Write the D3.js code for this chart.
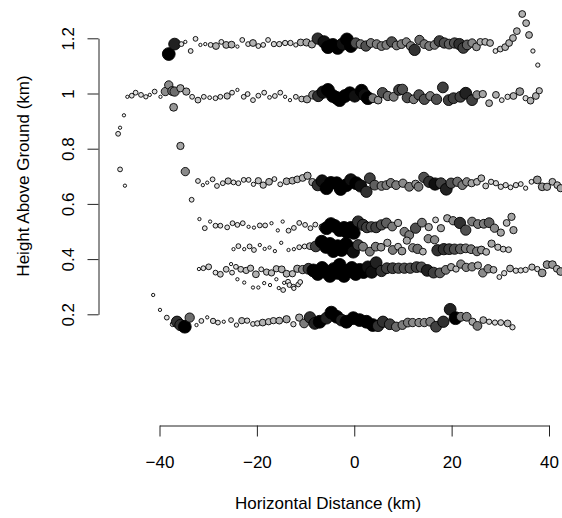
<!DOCTYPE html>
<html>
<head>
<meta charset="utf-8">
<script src="https://cdn.jsdelivr.net/npm/d3@7"></script>
<style>
  body { margin: 0; background: #fff; }
  svg { display: block; font-family: "Liberation Sans", Arial, Helvetica, sans-serif; }
</style>
</head>
<body>
<div id="chart"></div>
<script>
// Axis ticks
const xTicks = [-40, -20, 0, 20, 40];
const yTicks = [0.2, 0.4, 0.6, 0.8, 1, 1.2];

// Each point: [horizontal distance km, height km, strength 0..1]
const leftArc = [[-47.3,0.921,0.05],[-48.1,0.876,0.05],[-48.5,0.854,0.2],[-48.1,0.725,0.2],[-47.1,0.666,0.05]];

const layer120 = [[-38.1,1.143,1.0],[-36.9,1.179,0.9],[-35.5,1.179,0.2],[-34.7,1.187,0.05],[-33.6,1.154,0.2],[-32.6,1.198,0.2],[-31.6,1.176,0.05],[-30.6,1.179,0.05],[-29.5,1.176,0.2],[-28.4,1.172,0.4],[-27.3,1.187,0.2],[-26.3,1.176,0.4],[-25.2,1.177,0.4],[-24.0,1.170,0.05],[-23.0,1.194,0.2],[-21.8,1.179,0.2],[-20.8,1.183,0.4],[-19.7,1.172,0.2],[-18.7,1.176,0.2],[-17.7,1.194,0.2],[-16.5,1.179,0.25],[-15.4,1.179,0.25],[-14.2,1.183,0.25],[-13.1,1.183,0.25],[-12.0,1.176,0.15],[-11.0,1.185,0.4],[-9.8,1.185,0.45],[-8.7,1.178,0.45],[-7.5,1.199,0.85],[-6.2,1.187,0.95],[-5.4,1.168,1.0],[-4.4,1.176,1.0],[-3.4,1.165,1.0],[-2.4,1.179,0.95],[-1.5,1.196,1.0],[-0.7,1.172,1.0],[0.3,1.183,0.75],[1.3,1.179,0.6],[2.4,1.172,0.75],[3.4,1.183,0.6],[4.6,1.179,0.6],[5.6,1.172,0.6],[6.6,1.176,0.6],[7.7,1.187,0.75],[8.7,1.174,0.6],[9.7,1.179,0.6],[10.7,1.187,0.55],[11.6,1.172,0.6],[12.4,1.158,0.85],[13.4,1.194,0.65],[14.4,1.179,0.6],[15.4,1.172,0.6],[16.5,1.176,0.6],[17.5,1.190,0.8],[18.5,1.183,0.75],[19.5,1.179,0.7],[20.6,1.183,0.75],[21.6,1.179,0.85],[22.4,1.165,0.8],[23.2,1.176,0.7],[24.2,1.183,0.55],[25.1,1.169,0.5],[25.9,1.187,0.4],[26.9,1.187,0.4],[27.9,1.183,0.4],[29.0,1.154,0.2],[30.0,1.161,0.3],[31.0,1.168,0.4],[31.8,1.183,0.4],[32.6,1.201,0.4],[33.4,1.226,0.4],[34.5,1.288,0.4],[35.3,1.255,0.4],[35.9,1.212,0.4],[36.7,1.154,0.15],[37.7,1.103,0.15]];

const layer100 = [[-46.6,0.988,0.05],[-45.7,0.992,0.2],[-44.9,1.003,0.2],[-43.8,0.995,0.2],[-42.8,0.988,0.15],[-42.0,0.995,0.05],[-41.0,1.007,0.2],[-39.8,0.988,0.05],[-38.8,1.007,0.55],[-38.1,1.031,0.55],[-37.4,1.009,0.6],[-37.1,0.950,0.5],[-36.9,1.007,0.65],[-35.7,1.019,0.45],[-34.5,1.007,0.45],[-33.3,0.988,0.2],[-32.1,0.976,0.3],[-30.9,0.988,0.2],[-29.7,0.985,0.1],[-28.5,0.983,0.2],[-27.5,0.988,0.2],[-26.1,0.991,0.35],[-25.1,1.003,0.2],[-24.0,1.013,0.05],[-22.7,0.988,0.2],[-21.9,0.998,0.2],[-20.8,0.976,0.2],[-19.7,0.992,0.2],[-18.5,1.003,0.2],[-17.4,0.986,0.1],[-16.3,0.991,0.2],[-15.2,1.003,0.2],[-14.2,0.988,0.05],[-13.2,0.976,0.05],[-12.0,0.988,0.2],[-10.8,0.980,0.3],[-9.7,0.979,0.45],[-8.5,0.995,0.55],[-7.4,0.991,0.85],[-6.4,1.005,0.95],[-5.4,1.013,1.0],[-4.4,0.991,1.0],[-3.6,0.984,1.0],[-3.0,0.976,1.0],[-1.9,0.991,1.0],[-0.9,1.001,1.0],[0.1,0.991,0.95],[1.5,1.010,1.0],[2.1,0.995,0.95],[2.8,0.983,1.0],[3.8,0.983,0.6],[4.9,0.976,0.5],[5.8,1.003,0.75],[6.9,0.991,0.65],[8.1,0.988,0.6],[9.2,1.013,0.8],[9.9,1.015,0.75],[10.9,0.985,0.75],[12.2,0.979,0.6],[13.3,0.995,0.75],[14.4,0.979,0.75],[15.6,0.991,0.6],[16.9,0.979,0.75],[18.2,1.022,0.8],[19.4,0.976,0.8],[20.4,0.983,0.8],[21.8,0.988,0.8],[22.9,1.001,0.9],[24.2,0.976,0.8],[25.2,0.995,0.55],[26.4,0.998,0.45],[27.7,0.965,0.4],[29.1,0.995,0.4],[30.3,0.976,0.2],[31.5,0.988,0.25],[32.7,0.991,0.4],[34.0,1.007,0.5],[35.2,0.983,0.25],[36.2,0.974,0.4],[37.3,0.991,0.4],[38.0,1.010,0.35]];

const descent = [[-35.7,0.810,0.45],[-34.7,0.717,0.55],[-33.4,0.615,0.2]];

const layer067 = [[-32.1,0.683,0.2],[-31.1,0.668,0.05],[-30.2,0.677,0.05],[-29.1,0.689,0.2],[-28.2,0.665,0.2],[-27.0,0.675,0.2],[-25.9,0.683,0.35],[-24.8,0.678,0.2],[-23.8,0.675,0.2],[-22.7,0.687,0.2],[-21.7,0.687,0.2],[-20.7,0.671,0.15],[-19.7,0.684,0.35],[-18.7,0.668,0.35],[-17.5,0.680,0.4],[-16.4,0.690,0.2],[-15.2,0.671,0.2],[-13.9,0.682,0.4],[-12.7,0.684,0.4],[-11.7,0.689,0.4],[-10.6,0.694,0.4],[-9.6,0.702,0.45],[-8.6,0.679,0.45],[-7.5,0.668,0.85],[-6.6,0.683,0.95],[-5.7,0.657,1.0],[-4.8,0.676,1.0],[-3.6,0.675,1.0],[-2.8,0.654,1.0],[-1.6,0.668,1.0],[-0.7,0.687,0.95],[0.4,0.675,1.0],[1.3,0.665,0.95],[2.5,0.644,0.85],[3.2,0.693,0.8],[4.2,0.668,0.7],[5.6,0.665,0.6],[6.6,0.668,0.6],[7.5,0.676,0.6],[8.6,0.668,0.6],[10.0,0.675,0.55],[11.3,0.662,0.6],[12.6,0.672,0.5],[13.2,0.662,0.6],[14.3,0.696,0.75],[15.4,0.680,0.85],[16.6,0.672,0.95],[17.8,0.675,0.8],[18.9,0.653,0.9],[19.9,0.675,0.75],[21.2,0.680,0.65],[22.2,0.668,0.6],[23.1,0.680,0.55],[24.1,0.675,0.45],[25.2,0.680,0.4],[26.1,0.693,0.4],[27.0,0.665,0.3],[28.1,0.680,0.25],[29.1,0.675,0.25],[30.1,0.662,0.25],[31.1,0.668,0.25],[32.1,0.660,0.2],[33.2,0.668,0.25],[34.2,0.672,0.2],[35.2,0.657,0.15],[36.4,0.680,0.2],[37.6,0.687,0.5],[38.6,0.662,0.5],[39.6,0.662,0.45],[40.7,0.680,0.4],[41.7,0.668,0.4],[42.4,0.657,0.45]];

const layer052 = [[-31.8,0.545,0.05],[-30.7,0.512,0.2],[-29.6,0.536,0.05],[-28.5,0.521,0.2],[-27.5,0.521,0.2],[-26.1,0.515,0.2],[-25.0,0.530,0.2],[-24.0,0.524,0.2],[-22.9,0.530,0.2],[-21.7,0.517,0.05],[-20.6,0.514,0.05],[-19.4,0.522,0.2],[-18.3,0.522,0.2],[-17.0,0.530,0.05],[-15.7,0.504,0.05],[-14.7,0.536,0.05],[-13.5,0.503,0.2],[-12.4,0.513,0.2],[-11.3,0.531,0.2],[-10.1,0.524,0.2],[-9.0,0.512,0.2],[-8.0,0.525,0.2],[-6.5,0.515,0.45],[-5.7,0.512,1.0],[-4.8,0.527,1.0],[-4.0,0.520,1.0],[-3.0,0.505,1.0],[-2.1,0.513,1.0],[-1.5,0.498,1.0],[-0.7,0.513,1.0],[-0.1,0.495,1.0],[0.8,0.536,0.85],[1.8,0.524,0.85],[2.6,0.515,0.8],[3.5,0.517,0.75],[4.5,0.515,0.8],[5.6,0.524,0.75],[6.6,0.531,0.7],[7.8,0.518,0.6],[9.0,0.531,0.45],[10.3,0.499,0.6],[11.3,0.487,0.6],[12.6,0.512,0.75],[13.9,0.532,0.6],[15.3,0.516,0.45],[16.7,0.542,0.3],[17.8,0.512,0.45],[19.1,0.548,0.45],[20.3,0.539,0.55],[21.7,0.531,0.85],[22.9,0.505,0.75],[24.2,0.536,0.6],[25.4,0.527,0.6],[26.6,0.528,0.6],[27.7,0.532,0.7],[28.8,0.512,0.55],[30.1,0.496,0.45],[31.3,0.531,0.4],[32.3,0.553,0.45],[32.7,0.505,0.45],[10.8,0.467,0.45],[15.2,0.474,0.55],[16.5,0.470,0.55]];

const layer045 = [[-24.8,0.436,0.05],[-23.8,0.447,0.2],[-22.6,0.436,0.05],[-21.5,0.446,0.2],[-20.6,0.433,0.2],[-19.4,0.451,0.05],[-18.4,0.437,0.05],[-17.4,0.442,0.05],[-16.3,0.429,0.05],[-15.0,0.459,0.05],[-13.5,0.433,0.05],[-12.4,0.436,0.05],[-11.3,0.443,0.2],[-10.2,0.446,0.2],[-9.1,0.447,0.4],[-7.9,0.446,0.8],[-6.7,0.463,1.0],[-5.8,0.444,1.0],[-5.0,0.455,1.0],[-4.3,0.429,1.0],[-3.4,0.447,1.0],[-2.6,0.433,1.0],[-1.7,0.455,1.0],[-0.9,0.440,1.0],[-0.2,0.426,0.95],[0.8,0.451,0.8],[1.8,0.445,0.6],[3.2,0.427,0.6],[4.4,0.445,0.6],[5.5,0.443,0.5],[6.8,0.459,0.45],[7.9,0.433,0.6],[9.0,0.445,0.4],[9.8,0.429,0.5],[12.0,0.441,0.55],[13.0,0.437,0.65],[14.1,0.427,0.4],[17.1,0.432,0.85],[18.4,0.436,0.85],[19.5,0.436,0.8],[20.6,0.436,0.75],[21.8,0.437,0.7],[22.9,0.439,0.6],[24.0,0.436,0.6],[25.2,0.428,0.6],[26.1,0.433,0.5],[27.1,0.426,0.4],[28.2,0.456,0.45],[29.5,0.443,0.35],[30.6,0.436,0.3],[31.7,0.434,0.3]];

const layer036 = [[-31.9,0.364,0.05],[-31.0,0.367,0.2],[-29.9,0.372,0.3],[-28.5,0.351,0.2],[-27.5,0.345,0.3],[-26.3,0.363,0.3],[-25.3,0.382,0.05],[-25.1,0.351,0.2],[-24.3,0.372,0.2],[-23.3,0.363,0.3],[-22.2,0.359,0.35],[-21.3,0.367,0.35],[-20.2,0.345,0.4],[-19.1,0.363,0.2],[-18.0,0.353,0.35],[-17.0,0.350,0.35],[-16.0,0.365,0.35],[-14.9,0.363,0.4],[-13.9,0.347,0.4],[-12.7,0.347,0.35],[-11.7,0.365,0.45],[-10.6,0.362,0.55],[-9.4,0.365,0.8],[-8.4,0.359,1.0],[-7.5,0.346,1.0],[-6.6,0.368,1.0],[-5.8,0.353,1.0],[-5.0,0.339,1.0],[-4.2,0.364,1.0],[-3.4,0.350,1.0],[-3.0,0.379,1.0],[-2.1,0.339,1.0],[-1.3,0.357,1.0],[-0.5,0.368,1.0],[0.3,0.346,1.0],[1.1,0.361,1.0],[1.9,0.353,1.0],[2.8,0.371,0.95],[3.6,0.353,0.95],[4.5,0.387,0.9],[5.6,0.357,0.85],[6.7,0.367,0.8],[7.9,0.367,0.8],[9.1,0.367,0.75],[10.3,0.367,0.75],[11.5,0.367,0.75],[12.8,0.371,0.8],[13.8,0.371,0.75],[15.0,0.359,0.9],[16.3,0.351,0.8],[17.6,0.350,0.7],[18.8,0.361,0.6],[19.9,0.371,0.45],[20.9,0.364,0.35],[21.9,0.382,0.55],[23.0,0.370,0.55],[24.2,0.372,0.55],[25.4,0.377,0.45],[26.4,0.350,0.55],[27.5,0.365,0.55],[28.6,0.361,0.4],[29.8,0.335,0.2],[30.8,0.349,0.25],[32.0,0.366,0.4],[33.2,0.358,0.25],[34.2,0.359,0.25],[35.2,0.361,0.25],[36.5,0.371,0.35],[37.6,0.364,0.25],[38.6,0.350,0.5],[39.6,0.380,0.5],[40.7,0.380,0.5],[41.6,0.365,0.4],[42.4,0.355,0.5]];

const layer030 = [[-24.0,0.327,0.05],[-22.6,0.315,0.05],[-20.8,0.297,0.05],[-19.7,0.297,0.05],[-18.5,0.313,0.05],[-17.3,0.306,0.05],[-16.0,0.327,0.05],[-15.5,0.295,0.05],[-14.6,0.288,0.2],[-14.4,0.314,0.05],[-13.6,0.318,0.2],[-13.3,0.306,0.2],[-12.5,0.300,0.2],[-12.4,0.294,0.15],[-11.5,0.308,0.2],[-11.1,0.317,0.2]];

const layer018 = [[-41.3,0.270,0.05],[-39.9,0.216,0.05],[-38.5,0.188,0.2],[-37.3,0.164,0.2],[-36.4,0.173,0.85],[-35.7,0.161,0.85],[-34.8,0.155,1.0],[-33.8,0.188,0.65],[-32.4,0.161,0.05],[-31.4,0.176,0.2],[-30.2,0.189,0.05],[-29.0,0.176,0.25],[-28.0,0.170,0.2],[-26.8,0.173,0.05],[-25.3,0.179,0.2],[-24.2,0.161,0.15],[-23.1,0.177,0.35],[-22.0,0.177,0.25],[-20.8,0.165,0.2],[-19.9,0.167,0.25],[-18.8,0.170,0.4],[-17.6,0.173,0.35],[-16.6,0.177,0.35],[-15.4,0.177,0.4],[-13.9,0.182,0.45],[-12.5,0.164,0.25],[-11.3,0.188,0.45],[-10.3,0.167,0.6],[-9.1,0.189,0.85],[-8.1,0.167,0.9],[-7.1,0.173,1.0],[-5.7,0.186,0.9],[-4.7,0.206,1.0],[-3.6,0.191,1.0],[-2.6,0.179,0.9],[-1.6,0.173,1.0],[-0.2,0.186,1.0],[1.1,0.179,1.0],[2.5,0.173,1.0],[3.8,0.161,1.0],[4.9,0.158,0.85],[5.9,0.173,0.85],[7.3,0.164,0.8],[8.6,0.155,0.65],[9.9,0.161,0.6],[11.0,0.170,0.6],[12.0,0.170,0.55],[13.3,0.170,0.55],[14.4,0.170,0.55],[15.6,0.173,0.6],[16.8,0.155,0.8],[18.3,0.173,0.85],[19.7,0.218,0.9],[20.8,0.186,1.0],[21.9,0.191,0.6],[23.1,0.191,0.6],[24.3,0.173,0.45],[25.3,0.158,0.6],[26.5,0.179,0.4],[27.7,0.173,0.25],[28.9,0.170,0.25],[30.1,0.170,0.3],[31.5,0.167,0.4],[32.5,0.153,0.25]];

const layers = [leftArc, layer120, layer100, descent, layer067, layer052, layer045, layer036, layer030, layer018];

const width = 562, height = 518;

const x = d3.scaleLinear().domain([-40, 40]).range([159.5, 549]);
const y = d3.scaleLinear().domain([0.2, 1.2]).range([314.3, 38.3]);
const radius = d3.scaleLinear().domain([0, 1]).range([1.4, 6.4]);
function shade(v) {
  const g = Math.round(255 * (1 - Math.pow(v, 1.3)));
  return d3.rgb(g, g, g).toString();
}

const svg = d3.select("#chart").append("svg")
  .attr("width", width)
  .attr("height", height);

// points
svg.append("g")
  .selectAll("g")
  .data(layers)
  .enter().append("g")
  .selectAll("circle")
  .data(d => d)
  .enter().append("circle")
  .attr("cx", d => x(d[0]))
  .attr("cy", d => y(d[1]))
  .attr("r", d => radius(d[2]))
  .attr("fill", d => shade(d[2]))
  .attr("stroke", "#000")
  .attr("stroke-width", 0.9);

// x axis
const xAxis = svg.append("g")
  .attr("transform", "translate(0,425.5)")
  .call(d3.axisBottom(x).tickValues(xTicks).tickFormat(d3.format("")).tickSize(11).tickSizeOuter(0));
xAxis.attr("font-size", 17).attr("font-family", null);
xAxis.selectAll("line, path").attr("stroke", "#222");
xAxis.selectAll("text").attr("y", 42).attr("dy", null).attr("fill", "#000");

// y axis
const yAxis = svg.append("g")
  .attr("transform", "translate(98.5,0)")
  .call(d3.axisLeft(y).tickValues(yTicks).tickFormat(d3.format("")).tickSize(11).tickSizeOuter(0));
yAxis.attr("font-size", 17).attr("font-family", null);
yAxis.selectAll("line, path").attr("stroke", "#222");
yAxis.selectAll("text")
  .attr("x", 0).attr("dy", null)
  .attr("text-anchor", "middle")
  .attr("transform", "translate(-25,0) rotate(-90)")
  .attr("fill", "#000");

// titles
svg.append("text")
  .attr("x", 328)
  .attr("y", 509)
  .attr("text-anchor", "middle")
  .attr("font-size", 17)
  .text("Horizontal Distance (km)");

svg.append("text")
  .attr("transform", "translate(29,176) rotate(-90)")
  .attr("text-anchor", "middle")
  .attr("font-size", 17)
  .text("Height Above Ground (km)");
</script>
</body>
</html>
